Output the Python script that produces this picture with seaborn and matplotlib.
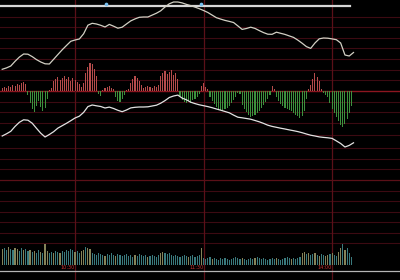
import numpy as np
import pandas as pd
import matplotlib
matplotlib.use("Agg")
import matplotlib.pyplot as plt
import seaborn as sns

# ---------------- data ----------------
# price line (sampled every 2 minutes), arbitrary units
price = [80.7, 82.1, 84, 88.7, 92.9, 96, 95.8, 93.4, 90.4, 88, 86.2, 86, 90.7, 95.5, 100.2,
         104.5, 108.7, 110, 111, 116.2, 124.8, 126.7, 126, 124.7, 123, 125.6, 123.8, 121.8,
         122.8, 126, 129.1, 131.1, 132.7, 133, 133, 134.9, 136.8, 139.2, 143, 146.2, 148, 148,
         147.1, 145.6, 144.4, 142.9, 141.3, 139.5, 137.5, 134.9, 132.3, 130.9, 129.6, 128.6,
         127.5, 124.1, 120.6, 121.5, 122.8, 121.6, 119.4, 117.4, 115.8, 115.7, 117.8, 116.7,
         115.6, 114.1, 112.6, 109.9, 106.8, 103.4, 101.6, 107, 111.2, 112, 111.8, 111.1, 110.3,
         107, 95, 94, 97.5]
# second (lower) line
avg_line = [14, 16.2, 18.7, 23.6, 27.7, 30.2, 29.8, 26.8, 21.7, 16.8, 13, 15.5, 18.3, 21.9,
            24.3, 26.7, 29.3, 32, 33.8, 37.6, 43.4, 45, 44.2, 43.5, 42, 42.9, 41.5, 39.7, 38.3,
            40, 42.1, 42.7, 43, 43, 43.2, 44, 44.8, 46.8, 49.4, 52.5, 54, 54.9, 51.9, 50.2, 47.8,
            46.4, 45.2, 44.3, 43.4, 42.3, 41, 39.8, 38.5, 37.2, 34.9, 32.8, 32.2, 31.5, 30.8,
            29.5, 28.2, 26.6, 24.8, 23.6, 22.7, 21.8, 21, 20.1, 19.3, 18.4, 17.3, 16, 14.8, 14,
            13.1, 12.6, 12.2, 11.6, 9.1, 6.5, 3, 4.6, 7.2]
# per-minute histogram (red above / green below zero)
hist = [3, 4, 3, 5, 4, 6, 5, 7, 6, 8, 9, 7,
        -4, -12, -18, -21, -15, -10, -16, -20, -17, -8,
        1, 3,
        10, 12, 14, 11, 13, 15, 12, 14, 10, 13, 11, 9, 7,
        4, 8,
        18, 24, 28, 27, 22, 15,
        -3, -5, 1,
        3, 4, 5, 3, 2,
        -6, -10, -11, -8, -4,
        1, 2,
        8, 12, 15, 13, 10, 6,
        3, 4, 5, 4, 3, 5, 4, 6,
        15, 18, 20, 17, 19, 21, 16, 18, 12,
        -5, -9, -11, -12, -10, -12, -9, -8, -6, -3,
        5, 8, 4, 2,
        -6, -10, -13, -16, -18, -19, -20, -18, -17, -15, -12, -9, -6,
        -2, -3,
        -14, -18, -21, -24, -26, -25, -24, -22, -20, -17, -14, -11, -8, -4,
        5, 2,
        -6, -10, -13, -15, -17, -18, -19, -20, -22, -24, -25, -27, -25, -20, -8,
        2, 6,
        12, 18, 14, 10,
        2, -2,
        -4, -6,
        -12, -18, -22, -26, -30, -34, -36, -33, -28, -22, -15]
# per-minute volume
volume = [16, 17, 15, 18, 16, 15, 17, 16, 14, 17, 15, 16, 14, 15,
          13, 14, 12, 15, 13, 12, 21, 14, 12, 13, 12, 14, 13, 12,
          14, 13, 15, 14, 16, 15, 13, 14, 12, 14, 15, 18, 17, 16,
          12, 11, 10, 12, 11, 10, 9, 11, 10, 12, 10, 9, 11, 10, 9, 10, 11, 9, 10, 8,
          10, 9, 11, 10, 9, 10, 8, 9, 10, 9, 8, 10,
          12, 13, 12, 11, 12, 10, 9, 10, 9, 8, 9, 10, 9, 8, 9, 10, 8, 9, 10,
          17,
          7, 6, 7, 8, 6, 7, 6, 5, 7, 6, 7, 6, 5, 6, 7, 8, 7, 6, 7, 6,
          5, 6, 7, 6, 7, 8, 7, 6, 7, 6, 5, 6, 7, 6, 7, 6, 5, 6, 7, 8, 7, 6, 7, 6, 7, 8,
          12, 13, 11, 12, 10, 11, 12, 10, 9, 11, 10, 9, 10, 11, 12, 10, 9, 13, 17, 21, 15,
          17, 12, 8]
vol_dir = list("uddudduudd" "uddududdud" "uudduddudd" "ddddudduud" "uuddddddud"
               "dddudddddd" "ddudddddud" "dddduudddd" "dddddddudd" "ddduddddud"
               "dddddddddd" "ddudddddud" "ddddddddud" "dddddudddd" "uududdudud"
               "duududduud" "uddd")
time_labels = ["10:30", "11:30", "14:00"]
time_index = [34, 94, 154]

# ---------------- figure ----------------
W, H = 400, 280
fig = plt.figure(figsize=(W / 100, H / 100), dpi=100)
fig.patch.set_facecolor("black")

XL = (-1.03, 185.7)

ax_bg = fig.add_axes([0, 0, 1, 1])
ax_bg.set_facecolor("black")
ax_bg.set_xlim(*XL)
ax_bg.set_ylim(H, 0)
ax_bg.set_axis_off()

def overlay(zorder):
    a = fig.add_axes([0, 0, 1, 1], sharex=None)
    a.patch.set_visible(False)
    a.set_axis_off()
    a.set_zorder(zorder)
    return a

# horizontal grid
grid_rows = [16.6, 27.2, 37.8, 48.4, 59.0, 69.6, 80.2, 101.6, 112.2, 122.8, 134.5,
             148.3, 159.0, 169.4, 190.7, 201.1, 211.7, 222.3, 232.8, 243.3]
for gy in grid_rows:
    ax_bg.axhline(gy, color="#3c0a12", lw=0.8, zorder=1)
ax_bg.axhline(180.0, color="#5a1018", lw=0.9, zorder=1)
ax_bg.axhline(91.0, color="#8c1620", lw=1.0, zorder=1)
for xi in time_index:
    ax_bg.axvline(xi, color="#5a1018", lw=0.9, zorder=1)

# top whitish bar with two markers
ax_bg.plot([-1, 162.5], [6, 6], color="#d6d6d6", lw=1.6, zorder=3)
ax_bg.scatter([48.5, 92.8], [4.3, 4.3], s=7, color="#78c0f0", zorder=4, linewidths=0)
# bottom border line
ax_bg.axhline(271, color="#b4b4b4", lw=0.9, zorder=3)

for lab, xi in zip(time_labels, time_index):
    ax_bg.text(xi - 3.4, 267.8, lab, color="#c83232", fontsize=3.6,
               ha="center", va="center", zorder=5, family="DejaVu Sans")

# histogram
ax_hist = overlay(2)
dfh = pd.DataFrame({"i": np.arange(len(hist)), "v": hist})
dfh["s"] = np.where(dfh["v"] >= 0, "up", "dn")
sns.barplot(data=dfh, x="i", y="v", hue="s", palette={"up": "#c83a3a", "dn": "#2f9e2f"},
            width=0.5, dodge=False, errorbar=None, legend=False, ax=ax_hist,
            linewidth=0, native_scale=True)
ax_hist.set_xlim(*XL)
ax_hist.set_ylim(91 - H, 91)
ax_hist.set_axis_off()

# volume
ax_vol = overlay(2)
dfv = pd.DataFrame({"i": np.arange(len(volume)), "v": volume, "d": vol_dir})
sns.barplot(data=dfv, x="i", y="v", hue="d", palette={"u": "#8c8a52", "d": "#2f8488"},
            width=0.55, dodge=False, errorbar=None, legend=False, ax=ax_vol,
            linewidth=0, native_scale=True)
ax_vol.set_xlim(*XL)
ax_vol.set_ylim(265 - H, 265)
ax_vol.set_axis_off()

# lines
ax_line = overlay(3)
xl = np.arange(len(price)) * 2
sns.lineplot(x=xl, y=price, color="#d2d0c4", lw=0.9, ax=ax_line)
xa = np.arange(len(avg_line)) * 2
sns.lineplot(x=xa, y=avg_line, color="#e2e2e2", lw=0.9, ax=ax_line)
ax_line.set_xlim(*XL)
ax_line.set_ylim(150 - H, 150)
ax_line.set_axis_off()

fig.savefig("out.png", dpi=100, facecolor="black")
